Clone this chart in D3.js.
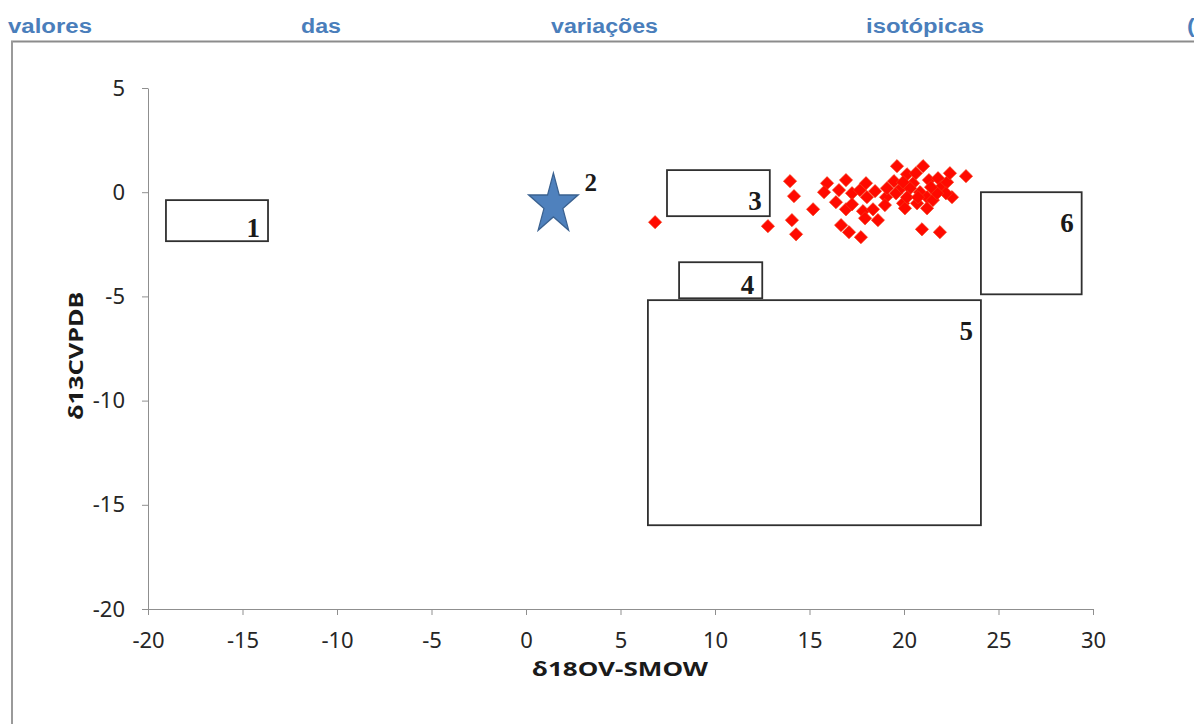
<!DOCTYPE html>
<html>
<head>
<meta charset="utf-8">
<script src="https://cdn.jsdelivr.net/npm/d3@7"></script>
<style>
  html, body { margin: 0; padding: 0; background: #ffffff; }
  svg { display: block; }
</style>
</head>
<body>
<svg id="chart" width="1194" height="724"></svg>
<script>
// Heading words (justified line of the surrounding text)
const headingWords = ["valores", "das", "variações", "isotópicas", "("];

// Axis ticks
const xTicks = [-20, -15, -10, -5, 0, 5, 10, 15, 20, 25, 30];
const yTicks = [5, 0, -5, -10, -15, -20];

// Axis titles
const xTitle = "δ18OV-SMOW";
const yTitle = "δ13CVPDB";

// Reference fields: [label, xMin, xMax, yMin, yMax]
const fieldLabels = ["1", "3", "4", "5", "6"];
const fieldX0 = [-19.05, 7.46, 8.1, 6.45, 24.07];
const fieldX1 = [-13.65, 12.9, 12.5, 24.07, 29.4];
const fieldY0 = [-2.35, -1.15, -5.09, -15.98, -4.9];
const fieldY1 = [-0.38, 1.06, -3.36, -5.18, 0.0];

// Single reference point (star), labelled "2"
const starLabel = "2";
const starX = 1.45;
const starY = -0.6;

// Sample measurements δ18O / δ13C
const sampleX = [6.83, 12.80, 13.97, 14.18, 14.07, 14.29, 15.19, 15.93, 15.77, 16.40,
  16.56, 16.93, 16.67, 17.09, 17.72, 16.93, 17.25, 17.25, 17.67, 17.99,
  18.04, 17.83, 18.36, 18.62, 18.47, 19.05, 18.99, 19.63, 19.47, 19.58,
  19.95, 20.16, 19.89, 20.48, 20.63, 21.01, 20.85, 21.22, 21.22, 21.53,
  21.32, 21.80, 21.96, 22.28, 22.43, 22.54, 22.22, 23.28, 20.95, 21.90,
  19.10, 20.32, 20.05, 20.69, 20.16, 20.74, 21.75, 21.43, 19.95, 17.94];
const sampleY = [-1.44, -1.63, 0.53, -0.19, -1.34, -2.02, -0.82, 0.43, 0.00, -0.48,
  0.10, 0.58, -1.58, -1.92, -2.16, -0.82, -0.05, -0.58, 0.10, 0.43,
  -0.24, -0.91, -0.82, -1.34, 0.05, -0.24, -0.62, 1.25, 0.53, -0.05,
  -0.53, 0.86, 0.24, 0.43, 0.91, 1.25, 0.00, -0.24, -0.77, -0.38,
  0.58, 0.67, 0.24, 0.48, 0.91, -0.24, -0.05, 0.77, -1.78, -1.92,
  0.19, 0.19, -0.77, -0.53, -0.24, -0.24, -0.05, 0.24, 0.48, -1.25];

const svg = d3.select("#chart");

// ---- page fragment: heading line and frame ----
const headingX = [8, 301, 551, 866, 1187];
const headingW = [84, 40, 107, 118, 8];
svg.selectAll("text.heading")
  .data(headingWords)
  .join("text")
  .attr("class", "heading")
  .attr("x", (d, i) => headingX[i])
  .attr("y", 33)
  .attr("textLength", (d, i) => headingW[i])
  .attr("lengthAdjust", "spacingAndGlyphs")
  .attr("font-family", "'Liberation Sans Narrow', 'Arial Narrow', 'Liberation Sans', Arial, sans-serif")
  .attr("font-weight", "bold")
  .attr("font-size", 20)
  .attr("fill", "#4a7ebb")
  .text(d => d);

svg.append("line").attr("x1", 11).attr("x2", 1194).attr("y1", 41.5).attr("y2", 41.5)
  .attr("stroke", "#8c8c8c").attr("stroke-width", 2);
svg.append("line").attr("x1", 12).attr("x2", 12).attr("y1", 41).attr("y2", 724)
  .attr("stroke", "#9a9a9a").attr("stroke-width", 2);

// ---- chart ----
const x = d3.scaleLinear().domain([-20, 30]).range([148, 1093]);
const y = d3.scaleLinear().domain([-20, 5]).range([609, 88]);

const axisColor = "#8f8f8f";
const tickFont = "'Noto Sans', 'Open Sans', sans-serif";

const xAxis = svg.append("g")
  .attr("transform", `translate(0,${y(-20)})`)
  .call(d3.axisBottom(x).tickValues(xTicks).tickSize(6).tickSizeOuter(0).tickPadding(17)
    .tickFormat(d => String(d)));
const yAxis = svg.append("g")
  .attr("transform", `translate(${x(-20)},0)`)
  .call(d3.axisLeft(y).tickValues(yTicks).tickSize(6).tickSizeOuter(0).tickPadding(17)
    .tickFormat(d => String(d)));

[xAxis, yAxis].forEach(g => {
  g.select(".domain").attr("stroke", axisColor).attr("stroke-width", 1);
  g.selectAll(".tick line").attr("stroke", axisColor);
  g.selectAll(".tick text")
    .attr("font-family", tickFont)
    .attr("font-size", 22)
    .attr("fill", "#262626");
});

// axis titles
svg.append("text")
  .attr("x", 620)
  .attr("y", 676)
  .attr("text-anchor", "middle")
  .attr("textLength", 176)
  .attr("lengthAdjust", "spacingAndGlyphs")
  .attr("font-family", tickFont)
  .attr("font-weight", "bold")
  .attr("font-size", 19)
  .attr("fill", "#1a1a1a")
  .text(xTitle);

svg.append("text")
  .attr("transform", `translate(83,${y(-7.85)}) rotate(-90)`)
  .attr("text-anchor", "middle")
  .attr("textLength", 128)
  .attr("lengthAdjust", "spacingAndGlyphs")
  .attr("font-family", tickFont)
  .attr("font-weight", "bold")
  .attr("font-size", 20)
  .attr("fill", "#1a1a1a")
  .text(yTitle);

// reference fields (boxes)
const fields = fieldLabels.map((label, i) => ({
  label, x0: fieldX0[i], x1: fieldX1[i], y0: fieldY0[i], y1: fieldY1[i]
}));

svg.selectAll("rect.field")
  .data(fields)
  .join("rect")
  .attr("class", "field")
  .attr("x", d => x(d.x0))
  .attr("y", d => y(d.y1))
  .attr("width", d => x(d.x1) - x(d.x0))
  .attr("height", d => y(d.y0) - y(d.y1))
  .attr("fill", "none")
  .attr("stroke", "#303030")
  .attr("stroke-width", 1.8);

svg.selectAll("text.field-label")
  .data(fields)
  .join("text")
  .attr("class", "field-label")
  .attr("x", d => x(d.x1) - 8)
  .attr("y", d => Math.min(y(d.y1) + 40, y(d.y0) - 4))
  .attr("text-anchor", "end")
  .attr("font-family", "'Liberation Serif', 'Times New Roman', serif")
  .attr("font-weight", "bold")
  .attr("font-size", 27)
  .attr("fill", "#1a1a1a")
  .text(d => d.label);

// star reference point
svg.append("path")
  .attr("d", d3.symbol(d3.symbolStar, 760)())
  .attr("transform", `translate(${x(starX)},${y(starY)}) scale(1,1.22)`)
  .attr("fill", "#4f81bd")
  .attr("stroke", "#3a6190")
  .attr("stroke-width", 1.2);
svg.append("text")
  .attr("x", x(starX) + 31)
  .attr("y", y(starY) - 14)
  .attr("font-family", "'Liberation Serif', 'Times New Roman', serif")
  .attr("font-weight", "bold")
  .attr("font-size", 25)
  .attr("fill", "#1a1a1a")
  .text(starLabel);

// sample diamonds
const samples = sampleX.map((v, i) => ({ x: v, y: sampleY[i] }));
const diamond = d3.symbol(d3.symbolSquare, 88)();
svg.append("g")
  .selectAll("path")
  .data(samples)
  .join("path")
  .attr("d", diamond)
  .attr("transform", d => `translate(${x(d.x)},${y(d.y)}) rotate(45)`)
  .attr("fill", "#ff0a00")
  .attr("stroke", "#f0401a")
  .attr("stroke-width", 0.6);
</script>
</body>
</html>
